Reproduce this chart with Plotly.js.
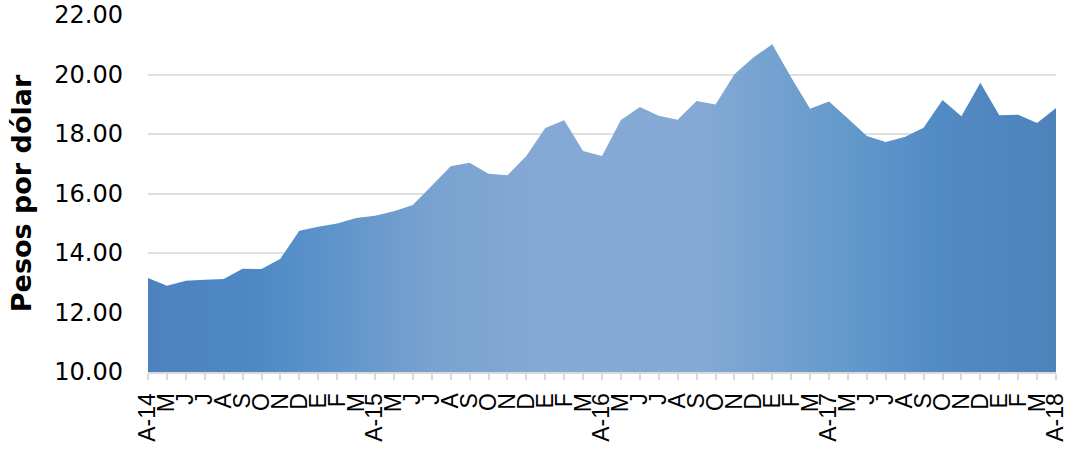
<!DOCTYPE html>
<html>
<head>
<meta charset="utf-8">
<script src="https://cdn.plot.ly/plotly-3.0.1.min.js"></script>
<style>
html,body{margin:0;padding:0;background:#fff;}
#chart{width:1069px;height:452px;}
</style>
</head>
<body>
<div id="chart"></div>
<script>
// Monthly labels, April 2014 to April 2018
const monthLabels = [
  "A-14","M","J","J","A","S","O","N","D","E","F","M",
  "A-15","M","J","J","A","S","O","N","D","E","F","M",
  "A-16","M","J","J","A","S","O","N","D","E","F","M",
  "A-17","M","J","J","A","S","O","N","D","E","F","M",
  "A-18"
];
// Pesos per dollar
const pesosPorDolar = [
  13.16,12.90,13.07,13.10,13.13,13.47,13.46,13.81,14.75,14.88,14.99,15.18,
  15.25,15.40,15.61,16.26,16.92,17.03,16.66,16.61,17.26,18.20,18.46,17.43,
  17.26,18.47,18.91,18.61,18.48,19.11,18.99,20.01,20.57,21.02,19.90,18.85,
  19.09,18.52,17.93,17.73,17.90,18.21,19.14,18.60,19.72,18.63,18.65,18.37,
  18.87
];
const yTicks = [10,12,14,16,18,20,22];

const xIdx = monthLabels.map((_, i) => i);

const trace = {
  type: 'scatter',
  x: xIdx,
  y: pesosPorDolar,
  mode: 'none',
  fill: 'tozeroy',
  fillgradient: {
    type: 'horizontal',
    colorscale: [
      [0.00, '#4e82be'],
      [0.11, '#4d88c5'],
      [0.17, '#5790c8'],
      [0.32, '#7aa3d0'],
      [0.44, '#84a9d4'],
      [0.61, '#84a9d4'],
      [0.67, '#78a3d1'],
      [0.77, '#6399cb'],
      [0.87, '#528ac4'],
      [1.00, '#4e83ba']
    ]
  },
  hoverinfo: 'x+y'
};

const layout = {
  width: 1069,
  height: 452,
  margin: {l: 148, r: 13, t: 15, b: 80, pad: 0},
  paper_bgcolor: '#ffffff',
  plot_bgcolor: '#ffffff',
  showlegend: false,
  xaxis: {
    range: [0, xIdx.length - 1],
    tickmode: 'array',
    tickvals: xIdx,
    ticktext: monthLabels,
    tickangle: -90,
    ticks: 'outside',
    ticklen: 6,
    tickwidth: 2,
    tickcolor: '#d9d9d9',
    showline: true,
    linecolor: '#d9d9d9',
    linewidth: 2,
    showgrid: false,
    zeroline: false,
    ticklabeloverflow: 'allow',
    ticklabelstandoff: 4,
    tickfont: {family: 'Liberation Sans, Arial, sans-serif', size: 23, color: '#000'}
  },
  yaxis: {
    range: [10, 22],
    tickmode: 'array',
    tickvals: yTicks,
    tickformat: '.2f',
    showgrid: true,
    gridcolor: '#e0e0e0',
    gridwidth: 2,
    zeroline: false,
    showline: false,
    ticks: '',
    ticklabelstandoff: 24,
    tickfont: {family: 'DejaVu Sans, sans-serif', size: 24, color: '#000'},
    title: {
      text: 'Pesos por dólar',
      font: {family: 'DejaVu Sans, sans-serif', size: 27, color: '#000', weight: 'bold'},
      standoff: 14
    }
  }
};

Plotly.newPlot('chart', [trace], layout, {displayModeBar: false, staticPlot: true});
</script>
</body>
</html>
